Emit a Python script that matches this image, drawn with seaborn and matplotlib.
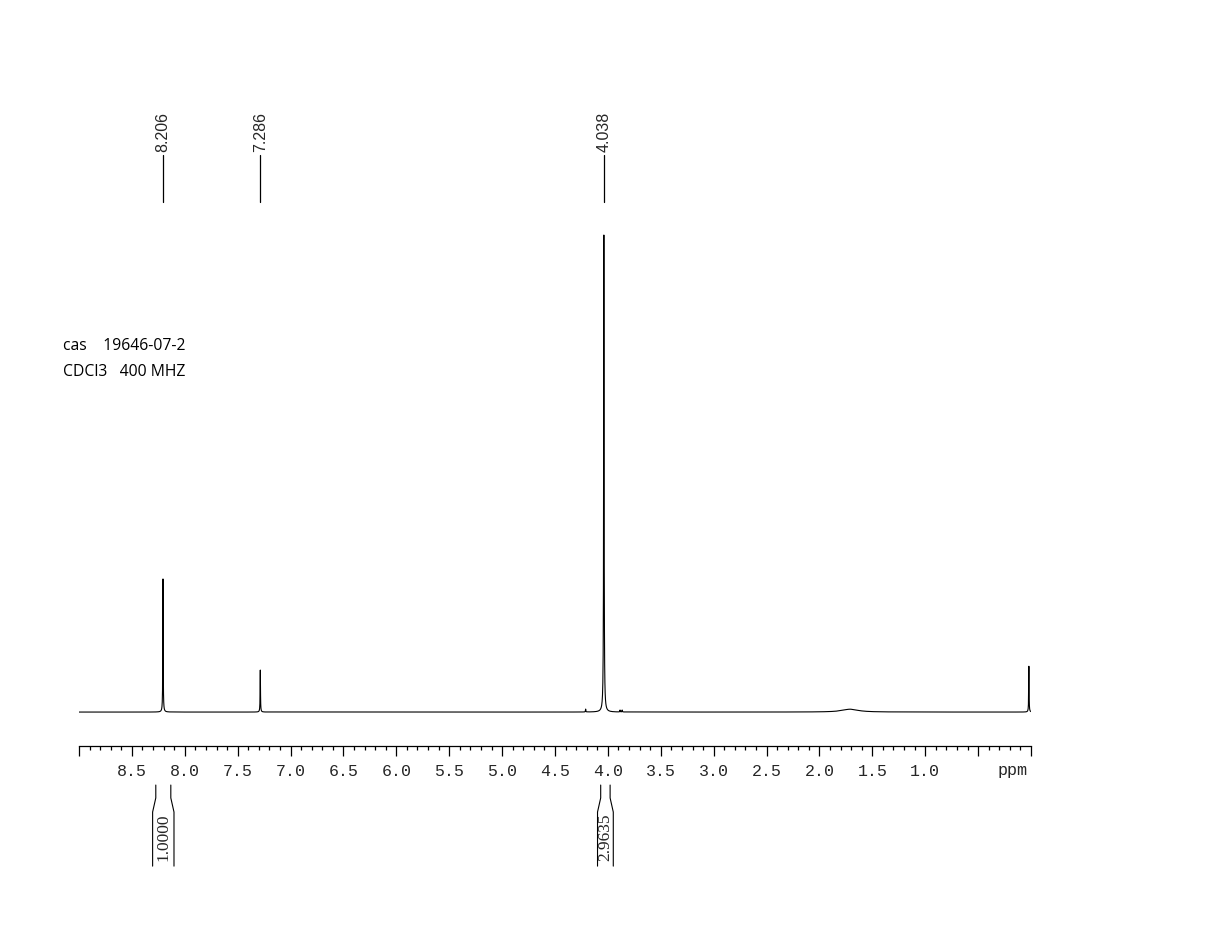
import numpy as np
import pandas as pd
import matplotlib
matplotlib.use("Agg")
import matplotlib.pyplot as plt
import seaborn as sns

# peak list (ppm, relative height, half width)
peak_ppm = [8.206, 7.286, 4.038, 4.21, 3.885, 3.865, 1.71, 0.02]
peak_height = [0.279, 0.088, 1.0, 0.006, 0.004, 0.004, 0.006, 0.096]
peak_width = [0.002, 0.002, 0.0025, 0.002, 0.002, 0.002, 0.09, 0.002]

# labels above the peaks
label_ppm = [8.206, 7.286, 4.038]
label_text = ["8.206", "7.286", "4.038"]

# integrals (ppm range, value)
integral_from = [8.274, 4.068]
integral_to = [8.132, 3.979]
integral_text = ["1.0000", "2.9635"]

tick_major = np.arange(0.0, 9.01, 0.5)
tick_labels = ["" if (t < 0.99 or t > 8.6) else f"{t:.1f}" for t in tick_major]

# build the spectrum trace
ppm = np.linspace(9.0, 0.0, 36001)
intensity = np.zeros_like(ppm)
for p, h, w in zip(peak_ppm, peak_height, peak_width):
    intensity += h * w**2 / ((ppm - p) ** 2 + w**2)
df = pd.DataFrame({"ppm": ppm, "intensity": intensity})

sns.set_style("white")
plt.rcParams["font.family"] = ["Liberation Sans", "DejaVu Sans"]

fig = plt.figure(figsize=(12.12, 9.52), dpi=100)
ax = fig.add_axes([79 / 1212, 0.0, 952 / 1212, 1.0])

sns.lineplot(data=df, x="ppm", y="intensity", ax=ax, color="black",
             linewidth=0.8, estimator=None, errorbar=None)

ax.set_xlim(9.0, 0.0)
ax.set_ylim(-0.503, 1.4927)
ax.set_xlabel("")
ax.set_ylabel("")
ax.set_yticks([])

for s in ["left", "right", "top"]:
    ax.spines[s].set_visible(False)
ax.spines["bottom"].set_position(("data", -0.0713))
ax.spines["bottom"].set_linewidth(0.9)
ax.spines["bottom"].set_color("black")

ax.set_xticks(tick_major)
ax.set_xticklabels(tick_labels, family="Liberation Mono", fontsize=12)
ax.set_xticks(np.arange(0.0, 9.01, 0.1), minor=True)
ax.tick_params(axis="x", which="major", direction="out", length=7, width=0.9,
               color="black", pad=6, bottom=True)
ax.tick_params(axis="x", which="minor", direction="out", length=3, width=0.9,
               color="black", bottom=True)

ax.text(0.17, -0.1216, "ppm", family="Liberation Mono", fontsize=12,
        ha="center", va="center")

# peak labels
for p, t in zip(label_ppm, label_text):
    ax.plot([p, p], [1.069, 1.168], color="black", linewidth=0.9)
    ax.text(p, 1.174, t, rotation=90, ha="center", va="bottom", fontsize=11.5)

# integral brackets
flare = 0.03
for a, b, t in zip(integral_from, integral_to, integral_text):
    y0, y1, y2, y3 = -0.153, -0.180, -0.2096, -0.323
    ax.plot([a, a, a + flare, a + flare], [y0, y1, y2, y3], color="black", linewidth=0.8)
    ax.plot([b, b, b - flare, b - flare], [y0, y1, y2, y3], color="black", linewidth=0.8)
    ax.text((a + b) / 2, -0.263, t, rotation=90, ha="center", va="center",
            family="Liberation Serif", fontsize=12.5)

fig.text(63 / 1212, 1 - 346 / 952, "cas    19646-07-2", family="Open Sans",
         fontsize=11.3, ha="left", va="center", color="black")
fig.text(63 / 1212, 1 - 372 / 952, "CDCl3   400 MHZ", family="Open Sans",
         fontsize=11.3, ha="left", va="center", color="black")

fig.savefig("out.png", dpi=100, facecolor="white")
